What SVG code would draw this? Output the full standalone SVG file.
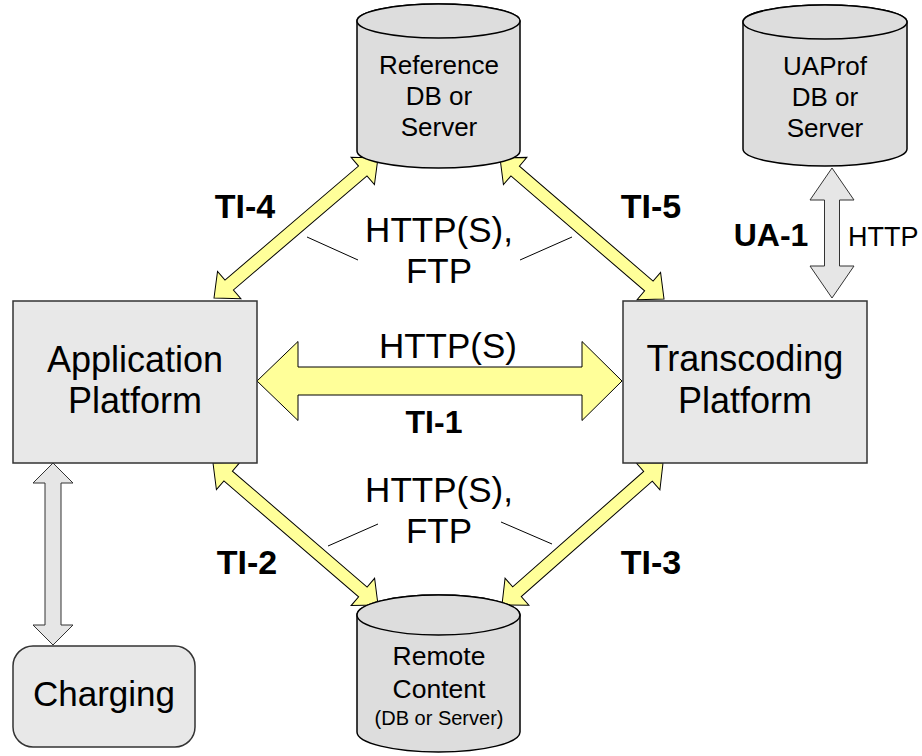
<svg xmlns="http://www.w3.org/2000/svg" width="922" height="756" viewBox="0 0 922 756">
<style>
.cyl{fill:#dddddd;stroke:#000;stroke-width:1.5}
.box{fill:#e8e8e8;stroke:#333;stroke-width:1.5}
.ya{fill:#ffff99;stroke:#000;stroke-width:1}
.ga{fill:#e6e6e6;stroke:#333;stroke-width:1}
.t{font-family:"Liberation Sans",Arial,sans-serif;fill:#000;text-anchor:middle}
.b{font-family:"Liberation Sans",Arial,sans-serif;fill:#000;font-weight:bold;text-anchor:middle}
.ld{stroke:#000;stroke-width:1;fill:none}
</style>
<rect width="922" height="756" fill="#fff"/>
<g id="connectors">
  <path id="ti1" class="ya" d="M257,381 L298,341.5 L298,367 L582,367 L582,341.5 L622,381 L582,420.5 L582,395 L298,395 L298,420.5 Z"/>
  <path id="ti4" class="ya" transform="translate(214,298) rotate(-40.49)" d="M0,0 L20,-18 L20,-6.5 L195.6,-6.5 L195.6,-18 L215.6,0 L195.6,18 L195.6,6.5 L20,6.5 L20,18 Z"/>
  <path id="ti5" class="ya" transform="translate(500,158) rotate(40.69)" d="M0,0 L20,-18 L20,-6.5 L196.3,-6.5 L196.3,-18 L216.3,0 L196.3,18 L196.3,6.5 L20,6.5 L20,18 Z"/>
  <path id="ti2" class="ya" transform="translate(213,463) rotate(40.71)" d="M0,0 L20,-18 L20,-6.5 L197.7,-6.5 L197.7,-18 L217.7,0 L197.7,18 L197.7,6.5 L20,6.5 L20,18 Z"/>
  <path id="ti3" class="ya" transform="translate(663,463) rotate(138.59)" d="M0,0 L20,-18 L20,-6.5 L194.7,-6.5 L194.7,-18 L214.7,0 L194.7,18 L194.7,6.5 L20,6.5 L20,18 Z"/>
  <path id="ua1" class="ga" d="M832,168 L854,200 L839.5,200 L839.5,266 L854,266 L832,298 L810,266 L824.5,266 L824.5,200 L810,200 Z"/>
  <path id="chg" class="ga" d="M53,463 L73,483 L61,483 L61,625 L73,625 L53,645 L33,625 L45,625 L45,483 L33,483 Z"/>
  <line class="ld" x1="307" y1="237" x2="358" y2="260"/>
  <line class="ld" x1="520" y1="260" x2="572" y2="237"/>
  <line class="ld" x1="328" y1="546" x2="378" y2="524"/>
  <line class="ld" x1="501" y1="522" x2="552" y2="544"/>
  <text class="t" font-size="35" x="439" y="242">HTTP(S),</text>
  <text class="t" font-size="35" x="439" y="283">FTP</text>
  <text class="t" font-size="35" x="439" y="502">HTTP(S),</text>
  <text class="t" font-size="35" x="439" y="543">FTP</text>
  <text class="t" font-size="35" x="448" y="358">HTTP(S)</text>
  <text class="b" font-size="32" x="434" y="433">TI-1</text>
  <text class="b" font-size="34" x="245" y="218">TI-4</text>
  <text class="b" font-size="34" x="651" y="218">TI-5</text>
  <text class="b" font-size="34" x="247" y="574">TI-2</text>
  <text class="b" font-size="34" x="651" y="574">TI-3</text>
  <text class="b" font-size="32" x="771" y="246">UA-1</text>
  <text class="t" font-size="27" x="848" y="246" style="text-anchor:start">HTTP</text>
</g>
<g id="reference">
  <path class="cyl" d="M357,21 V151 A81.5,17 0 0 0 520,151 V21 A81.5,17 0 0 0 357,21 Z"/>
  <ellipse class="cyl" cx="438.5" cy="21" rx="81.5" ry="17"/>
  <text class="t" font-size="26" x="439" y="74">Reference</text>
  <text class="t" font-size="26" x="439" y="105">DB or</text>
  <text class="t" font-size="26" x="439" y="136">Server</text>
</g>
<g id="uaprof">
  <path class="cyl" d="M743,22 V149 A82,17 0 0 0 907,149 V22 A82,17 0 0 0 743,22 Z"/>
  <ellipse class="cyl" cx="825" cy="22" rx="82" ry="17"/>
  <text class="t" font-size="26" x="825" y="75">UAProf</text>
  <text class="t" font-size="26" x="825" y="106">DB or</text>
  <text class="t" font-size="26" x="825" y="137">Server</text>
</g>
<g id="application">
  <rect class="box" x="13" y="301" width="244" height="162"/>
  <text class="t" font-size="36" x="135" y="372">Application</text>
  <text class="t" font-size="36" x="135" y="413">Platform</text>
</g>
<g id="transcoding">
  <rect class="box" x="623" y="301" width="244" height="162"/>
  <text class="t" font-size="36" x="745" y="371">Transcoding</text>
  <text class="t" font-size="36" x="745" y="413">Platform</text>
</g>
<g id="remote">
  <path class="cyl" d="M357,615 V732 A81.5,20 0 0 0 520,732 V615 A81.5,20 0 0 0 357,615 Z"/>
  <ellipse class="cyl" cx="438.5" cy="615" rx="81.5" ry="20"/>
  <text class="t" font-size="26.5" x="439" y="665">Remote</text>
  <text class="t" font-size="26.5" x="439" y="698">Content</text>
  <text class="t" font-size="20" x="439" y="725">(DB or Server)</text>
</g>
<g id="charging">
  <rect class="box" x="13" y="646" width="182" height="101" rx="20"/>
  <text class="t" font-size="35" x="104" y="706">Charging</text>
</g>
</svg>
